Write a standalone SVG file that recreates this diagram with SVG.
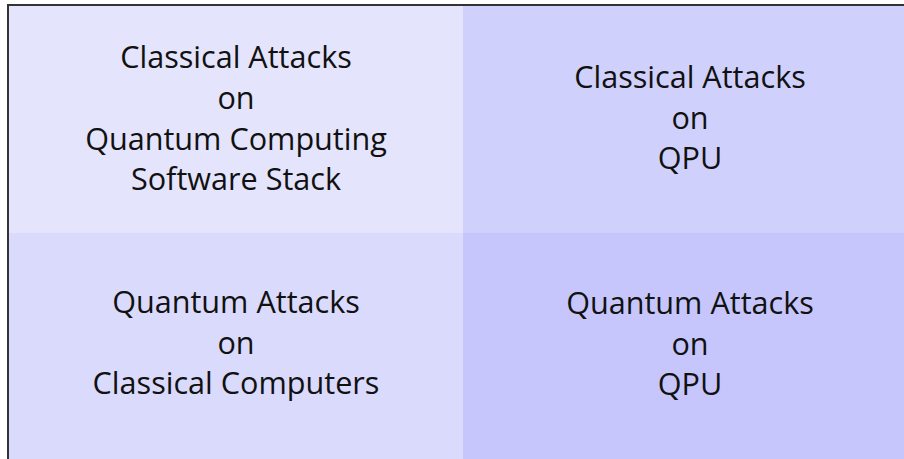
<svg xmlns="http://www.w3.org/2000/svg" width="904" height="459" viewBox="0 0 904 459">
  <style>
    .lbl { font-family: "Open Sans", "Noto Sans", "DejaVu Sans", sans-serif; font-size: 30.6px; fill: #111111; text-anchor: middle; }
    .frame { fill: none; stroke: #333333; stroke-width: 2; }
  </style>
  <rect width="904" height="459" fill="#ffffff"/>
  <!-- quadrant grid -->
  <g id="cell-classical-software">
    <rect x="8" y="5" width="455" height="228" fill="#e4e4fc"/>
    <text class="lbl" x="236" y="68">Classical Attacks</text>
    <text class="lbl" x="236" y="109">on</text>
    <text class="lbl" x="236" y="150">Quantum Computing</text>
    <text class="lbl" x="236" y="190">Software Stack</text>
  </g>
  <g id="cell-classical-qpu">
    <rect x="463" y="5" width="450" height="228" fill="#d0d0fc"/>
    <text class="lbl" x="690" y="88">Classical Attacks</text>
    <text class="lbl" x="690" y="129">on</text>
    <text class="lbl" x="690" y="169">QPU</text>
  </g>
  <g id="cell-quantum-classical">
    <rect x="8" y="233" width="455" height="236" fill="#dadafc"/>
    <text class="lbl" x="236" y="313">Quantum Attacks</text>
    <text class="lbl" x="236" y="354">on</text>
    <text class="lbl" x="236" y="394">Classical Computers</text>
  </g>
  <g id="cell-quantum-qpu">
    <rect x="463" y="233" width="450" height="236" fill="#c6c6fc"/>
    <text class="lbl" x="690" y="314">Quantum Attacks</text>
    <text class="lbl" x="690" y="355">on</text>
    <text class="lbl" x="690" y="395">QPU</text>
  </g>
  <g id="connectors"/>
  <path class="frame" d="M8,470 V5 H910"/>
</svg>
